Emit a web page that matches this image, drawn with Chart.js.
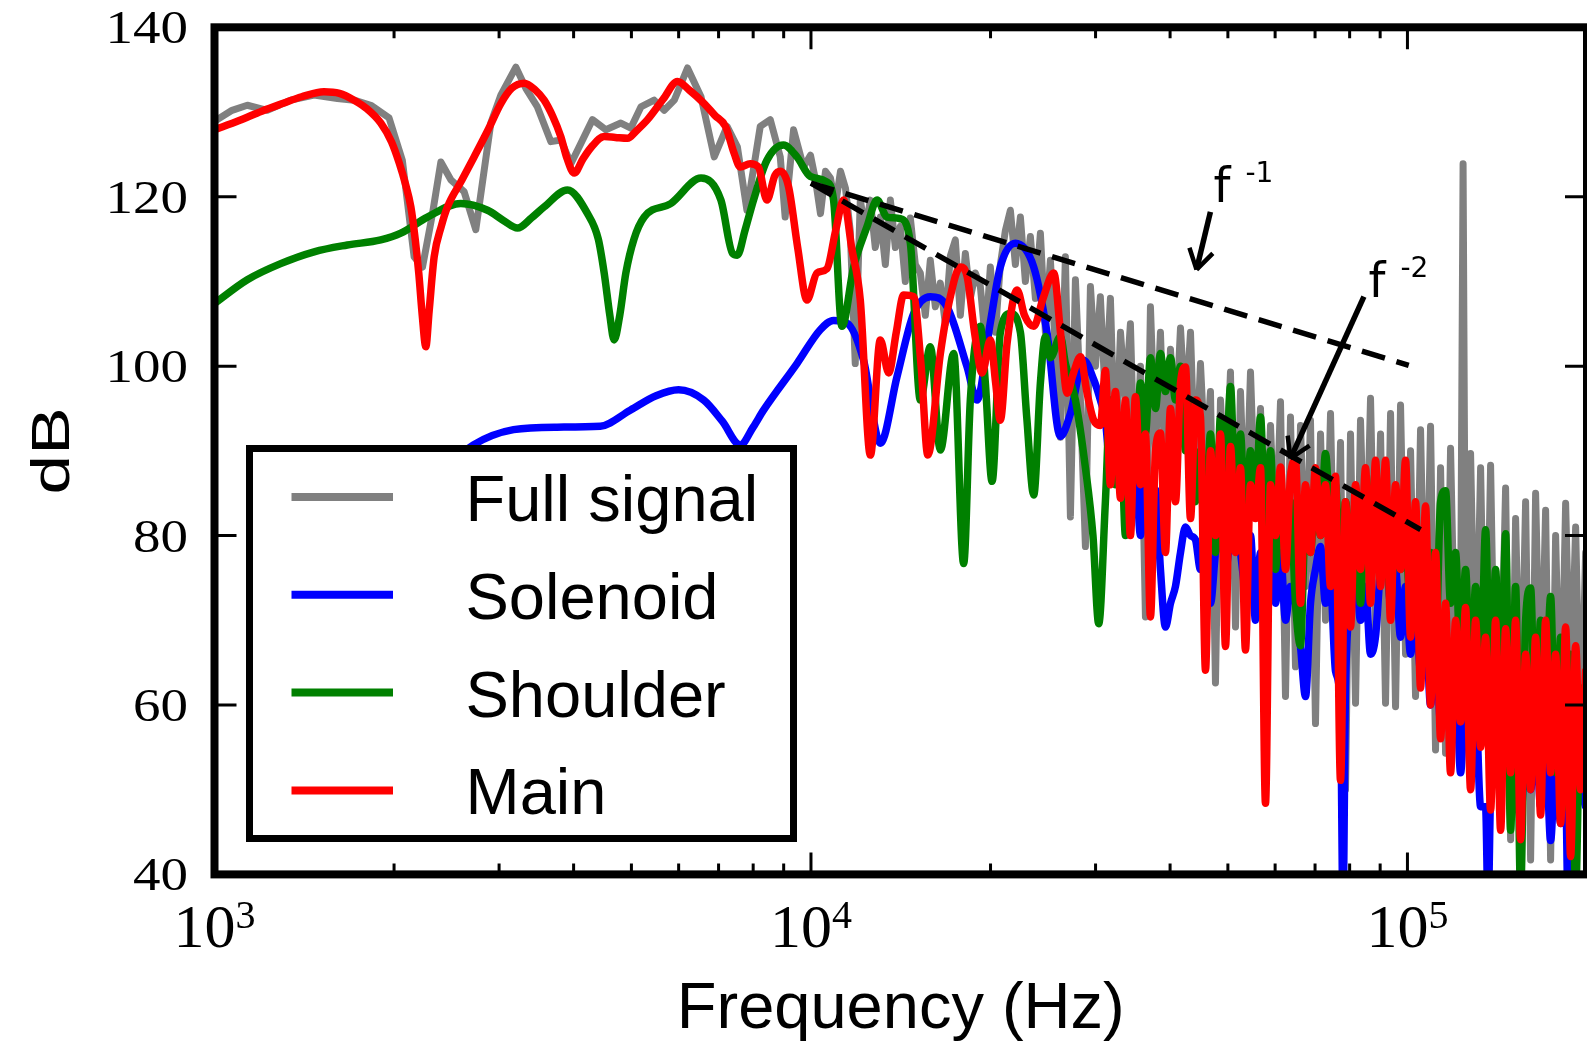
<!DOCTYPE html>
<html>
<head>
<meta charset="utf-8">
<title>Spectrum</title>
<script src="https://cdn.jsdelivr.net/npm/chart.js@4.4.0/dist/chart.umd.min.js"></script>
<style>
  html, body { margin: 0; padding: 0; background: #fff; }
  #chart { display: block; }
</style>
</head>
<body>
<canvas id="chart" width="1587" height="1043"></canvas>
<script>
// values: [frequency (Hz), level (dB)]
const fullSignal = [
  [1000,128.9],[1070,130.2],[1135,130.8],[1226,130.2],[1342,131.4],[1469,132.0],[1607,131.6],[1714,131.4],
  [1828,130.8],[1962,129.3],[2065,124.3],[2161,112.9],[2232,111.7],[2320,118.0],[2396,124.1],[2490,122.0],
  [2621,120.6],[2742,116.1],[2906,128.7],[3020,132.0],[3201,135.3],[3326,132.8],[3478,130.6],[3664,126.5],
  [3807,126.7],[3958,123.9],[4114,126.3],[4302,129.1],[4530,127.9],[4800,128.7],[4989,128.1],[5186,130.6],
  [5458,131.4],[5675,130.2],[5900,131.4],[6209,135.2],[6541,131.8],[6884,124.7],[7233,128.3],[7527,125.9],
  [7810,118.4],[8222,128.3],[8546,129.1],[8882,124.7],[9051,117.6],[9350,127.9],[9718,123.5],
  [9981,124.9],[10175,122.0],[10374,118.0],[10576,123.0],[10782,122.2],[10992,119.0],[11207,123.0],[11425,121.0],
  [11637,116.0],[11864,100.3],[12097,119.6],[12333,116.0],[12574,119.6],[12818,114.0],[13071,117.6],[13326,112.0],
  [13586,119.6],[13851,114.0],[14117,116.5],[14393,110.0],[14674,117.5],[14960,112.0],[15252,111.0],[15549,106.0],
  [15852,112.5],[16162,107.0],[16476,109.8],[16798,105.0],[17126,113.0],[17459,114.9],[17800,106.0],[18147,113.3],
  [18501,108.0],[18862,111.0],[19230,109.4],[19605,103.0],[19987,111.7],[20377,104.0],[20774,112.0],[21180,116.0],
  [21593,118.4],[22013,112.0],[22443,117.6],[22880,110.0],[23327,115.3],[23782,108.0],[24245,115.7],[24718,104.0],
  [25200,112.5],[25691,102.0],[26192,91.6],[26703,112.9],[27224,82.2],[27755,110.2],[28296,96.0],[28848,78.7],
  [29411,109.4],[29984,100.0],[30560,108.2],[31160,96.0],[31770,108.0],[32390,88.0],[33030,104.0],[33670,96.0],
  [34320,105.0],[34990,84.0],[35680,100.0],[36370,70.4],[37080,107.0],[37810,90.0],[38540,104.0],[39290,86.0],
  [40060,102.0],[40840,92.0],[41640,104.5],[42450,94.0],[43280,104.0],[44120,86.0],[44980,100.3],[45860,88.0],
  [46750,97.0],[47660,62.6],[48590,96.0],[49540,84.0],[50500,99.3],[51490,69.2],[52490,97.0],[53510,80.0],
  [54560,99.3],[55620,82.0],[56710,95.0],[57810,76.0],[58940,93.0],[60090,78.0],[61260,95.8],[62450,61.0],
  [63670,94.0],[64910,64.5],[66180,93.0],[67470,74.0],[68780,93.6],[70120,57.8],[71490,92.0],[72880,70.0],
  [74310,94.4],[75750,66.0],[77230,91.0],[78740,50.0],[80270,92.0],[81840,60.2],[83430,93.6],[85060,72.0],
  [86720,96.2],[88410,68.0],[90140,92.0],[91890,60.2],[93690,94.4],[95510,59.8],[97370,95.4],[99270,66.0],
  [101210,90.0],[103180,61.0],[105190,92.5],[107240,64.0],[109330,92.9],[111460,54.7],[113640,88.0],[115850,54.3],
  [118110,90.3],[120420,62.0],[122770,70.0],[123960,123.9],[125160,66.0],[127600,89.7],[130090,60.0],[132630,88.0],
  [135210,56.0],[137850,88.3],[140540,53.9],[143280,60.0],[146070,85.6],[148920,44.1],[151820,82.0],[154780,56.0],
  [157800,84.0],[160880,41.7],[164010,85.0],[167210,58.0],[170470,83.0],[173790,41.7],[177180,80.0],[180640,55.0],
  [184160,83.8],[187750,60.0],[191410,81.0],[195140,53.9],[198940,78.0]
];

// starts under the legend box, so its first points are hidden there
const solenoid = [
  [1200,70.0],[1400,73.0],[1700,77.0],[2000,82.0],[2400,87.5],[2717,90.7],[3172,92.5],
  [3750,92.8],[4433,92.9],
  [4977,94.8],[5500,96.5],[5998,97.2],[6607,96.0],[7100,93.5],[7611,90.7],[8000,92.8],[8327,94.8],
  [9474,100.3],[10366,104.3],[10911,105.4],[11488,105.1],[12250,100.7],[13071,90.9],[13945,98.8],[14863,106.2],
  [15850,108.2],[16910,107.0],[18270,99.9],[18980,96.0],[19980,105.1],[20770,111.7],[22010,114.5],[23630,111.7],
  [24880,103.9],[26190,91.7],[27220,94.4],[28660,100.7],[29790,98.4],[30560,96.0],[31160,93.6],[31770,88.0],
  [32390,92.0],[33030,86.0],[33670,90.0],[34320,84.0],[34990,88.0],[35680,80.0],[36370,86.0],[37080,82.0],
  [37810,85.4],[38540,76.0],[39290,69.2],[40060,72.0],[40840,74.0],[41640,78.0],[42450,81.0],[43280,80.0],
  [44120,79.5],[44980,76.0],[45860,80.0],[46750,72.0],[47660,78.0],[48590,82.0],[49540,76.0],[50500,80.0],
  [51490,82.6],[52490,78.0],[53510,74.0],[54560,80.0],[55620,70.0],[56710,78.0],[57810,76.0],[58940,80.0],
  [60090,72.0],[61260,78.0],[62450,70.0],[63670,74.0],[64910,72.0],[66180,66.9],[67470,61.0],[68780,72.0],
  [70120,76.0],[71490,78.7],[72880,72.0],[74310,74.0],[75750,64.0],[77230,60.0],[77970,36.0],[78740,62.0],
  [80270,72.0],[81840,76.0],[83430,70.0],[85060,74.0],[86720,66.0],[88410,68.1],[90140,76.0],[91890,78.7],
  [93690,72.0],[95510,76.0],[97370,68.0],[99270,74.0],[101210,66.0],[103180,72.0],[105190,64.0],[107240,70.0],
  [109330,60.0],[111460,68.0],[113640,58.0],[115850,66.0],[118110,56.0],[120420,64.0],[122770,52.0],[125160,62.0],
  [127600,54.0],[130090,60.0],[132630,48.0],[135210,48.0],[136520,36.0],[137850,50.0],[140540,58.0],[143280,54.0],
  [146070,60.0],[148920,50.0],[151820,58.0],[154780,46.0],[157800,56.0],[160880,50.0],[164010,58.0],[167210,48.0],
  [170470,56.0],[173790,44.0],[177180,54.0],[180640,46.0],[184160,50.0],[185940,36.0],[187750,48.0],[191410,54.0],
  [195140,50.0],[198940,48.0]
];

const shoulder = [
  [1000,107.4],[1135,110.2],[1291,112.1],[1469,113.5],[1670,114.3],[1900,114.9],[2053,115.7],[2275,117.6],
  [2588,119.2],[2869,118.4],[3050,117.2],[3221,116.3],[3400,117.5],[3570,118.8],[3906,120.8],[4221,118.0],
  [4400,115.0],[4501,111.0],[4600,106.0],[4677,103.1],[4780,106.0],[4894,111.0],[5050,115.0],[5253,117.6],
  [5823,119.2],[6541,122.2],[7063,119.6],[7388,113.3],[7527,113.1],[7750,116.0],[8011,119.6],[8436,124.3],
  [8995,126.1],[9474,124.7],[9973,122.4],[10600,121.8],[10911,119.6],[11270,104.7],[11790,111.7],[12420,116.5],
  [12905,119.6],[13414,117.6],[14118,117.4],[14677,114.5],[15255,96.0],[15852,102.3],[16476,90.1],[17350,101.5],
  [18030,76.7],[18500,96.0],[19230,104.7],[19605,98.0],[20120,86.4],[20774,104.0],[21593,106.2],[22443,104.0],
  [23000,94.0],[23630,84.8],[24245,98.0],[24718,103.5],[25200,101.0],[26192,103.5],[26703,100.3],[27755,96.0],
  [28848,88.0],[29700,80.0],[30370,69.6],[31160,84.0],[31770,96.0],[32390,86.0],[33030,94.0],[33670,80.0],
  [34320,93.0],[34990,88.0],[35680,98.0],[36370,92.0],[37080,101.0],[37810,95.0],[38540,101.5],[39290,97.0],
  [40060,101.0],[40840,96.0],[41640,100.0],[42450,90.0],[43280,96.0],[44120,84.0],[44980,90.0],[45860,82.0],
  [46750,92.0],[47660,78.0],[48590,94.0],[49540,86.0],[50500,97.6],[51490,84.0],[52490,92.0],[53510,80.0],
  [54560,90.0],[55620,83.0],[56710,94.0],[57810,80.0],[58940,90.0],[60090,76.0],[61260,86.0],[62450,80.0],
  [63670,84.0],[64910,72.0],[66180,67.0],[67470,82.0],[68780,78.0],[70120,86.0],[71490,80.0],[72880,89.7],
  [74310,82.0],[75750,86.0],[77230,74.0],[78740,84.0],[80270,78.0],[81840,82.0],[83430,72.0],[85060,86.0],
  [86720,80.0],[88410,87.7],[90140,78.0],[91890,82.0],[93690,72.0],[95510,82.0],[97370,76.0],[99270,80.0],
  [101210,70.0],[103180,68.9],[105190,80.0],[107240,72.0],[109330,78.0],[111460,66.0],[113640,84.0],[115850,85.3],
  [118110,72.0],[120420,78.0],[122770,64.0],[125160,76.0],[127600,60.0],[130090,74.0],[132630,62.0],[135210,80.7],
  [137850,58.0],[140540,76.0],[143280,56.0],[146070,80.2],[148920,45.2],[151820,74.0],[154780,38.0],[157800,70.0],
  [160880,73.8],[164010,55.0],[167210,70.0],[170470,60.0],[173790,72.8],[177180,52.0],[180640,68.0],[184160,48.0],
  [187750,66.0],[191410,38.0],[195140,62.0],[198940,56.0]
];

const mainPart = [
  [1000,127.9],[1100,129.0],[1200,130.1],[1300,131.0],[1400,131.8],[1526,132.4],[1620,132.2],[1714,131.4],
  [1800,130.4],[1900,128.7],[1980,126.5],[2040,124.0],[2090,121.5],[2134,118.8],[2170,115.0],[2200,111.0],
  [2230,106.0],[2261,102.3],[2290,106.5],[2335,112.9],[2400,116.5],[2458,118.8],[2600,122.0],[2724,124.7],
  [2880,128.0],[3020,131.0],[3150,132.8],[3305,133.4],[3450,132.6],[3570,131.4],[3690,129.5],[3807,127.1],
  [3900,124.5],[4009,122.8],[4150,124.5],[4300,126.0],[4501,127.1],[4700,127.0],[4925,126.9],[5100,127.8],
  [5321,129.1],[5650,131.5],[5973,133.6],[6250,132.6],[6622,131.0],[6900,129.6],[7189,128.3],[7436,125.1],
  [7611,123.5],[7907,123.9],[8166,123.5],[8436,119.6],[8700,122.5],[8882,123.0],[9170,121.2],[9500,114.0],
  [9847,107.8],[10233,111.0],[10637,111.5],[11000,116.0],[11340,119.6],[11700,114.0],[12097,107.8],[12578,89.5],
  [13071,103.1],[13497,99.2],[13900,104.0],[14302,108.4],[14863,108.2],[15300,100.0],[15700,89.5],[16480,101.5],
  [17100,108.0],[17800,111.7],[18270,110.6],[18800,104.0],[19360,99.2],[19980,103.1],[20400,98.0],[20770,93.6],
  [21320,102.7],[22160,109.0],[22800,106.0],[23630,104.7],[24500,108.0],[25530,111.0],[26200,104.0],[26880,96.8],
  [27500,99.0],[28300,101.1],[29000,97.0],[29790,93.6],[30560,93.0],[31160,99.5],[31770,86.0],[32390,97.0],
  [33030,84.4],[33670,96.0],[34320,80.0],[34990,96.4],[35680,86.0],[36370,92.0],[37080,70.4],[37810,90.0],
  [38540,92.1],[39290,78.0],[40060,95.0],[40840,84.0],[41640,98.0],[42450,99.9],[43280,82.0],[44120,96.0],
  [44980,94.0],[45860,64.1],[46750,90.0],[47660,80.0],[48590,92.0],[49540,66.9],[50500,90.5],[51490,78.0],
  [52490,88.0],[53510,66.5],[54560,86.0],[55620,82.0],[56710,88.0],[57810,48.4],[58940,86.0],[60090,80.0],
  [61260,88.1],[62450,76.0],[63670,87.0],[64910,88.9],[66180,72.0],[67470,86.0],[68780,78.0],[70120,88.0],
  [71490,80.0],[72880,86.0],[74310,74.0],[75750,87.0],[77230,51.1],[78740,84.0],[80270,69.2],[81840,86.0],
  [83430,76.0],[85060,88.0],[86720,72.0],[88410,88.9],[90140,74.0],[91890,88.9],[93690,70.0],[95510,86.0],
  [97370,76.0],[99270,88.9],[101210,68.0],[103180,84.0],[105190,62.0],[107240,83.5],[109330,60.0],[111460,78.0],
  [113640,56.0],[115850,72.0],[118110,52.0],[120420,70.0],[122770,58.0],[125160,71.5],[127600,50.0],[130090,70.0],
  [132630,55.0],[135210,68.0],[137850,47.6],[140540,70.0],[143280,45.2],[146070,69.0],[148920,52.0],[151820,70.0],
  [154780,44.1],[157800,66.0],[160880,50.0],[164010,68.0],[167210,47.0],[170470,70.0],[173790,52.0],[177180,66.0],
  [180640,46.0],[184160,69.2],[187750,42.1],[191410,67.0],[195140,50.0],[198940,64.0]
];

// the two slope guides and their labels
const slopeMinus1 = [[10000, 121.6], [100500, 100.1]];
const slopeMinus2 = [[10000, 121.6], [105200, 80.7]];
const slopeNotes = [
  { power: '-1', label: [47300, 119.4], tail: [46740, 118.2], tip: [44300, 111.4] },
  { power: '-2', label: [86040, 108.2], tail: [84530, 108.2], tip: [63670, 89.1] }
];

const yTicks = [40, 60, 80, 100, 120, 140];
const xDecades = [1000, 10000, 100000];
const xMinor = [2000, 3000, 4000, 5000, 6000, 7000, 8000, 9000,
                20000, 30000, 40000, 50000, 60000, 70000, 80000, 90000];

const toPoints = arr => arr.map(([x, y]) => ({ x, y }));

function series(label, data, color, order, smooth, width) {
  return {
    label: label,
    data: toPoints(data),
    borderColor: color,
    backgroundColor: color,
    borderWidth: width,
    pointRadius: 0,
    fill: false,
    order: order,
    borderJoinStyle: 'round',
    borderCapStyle: 'round',
    cubicInterpolationMode: smooth ? 'monotone' : 'default',
    tension: 0
  };
}

function guide(data) {
  return {
    label: '',
    data: toPoints(data),
    borderColor: '#000',
    borderWidth: 5.5,
    borderDash: [24, 12],
    pointRadius: 0,
    fill: false,
    order: 0
  };
}

const frame = {
  id: 'frame',
  beforeDraw(chart) {
    const ctx = chart.ctx;
    ctx.save();
    ctx.fillStyle = '#fff';
    ctx.fillRect(0, 0, chart.width, chart.height);
    ctx.restore();
  },
  afterDatasetsDraw(chart) {
    const { ctx, chartArea: a, scales: { x, y } } = chart;
    ctx.save();

    // ticks point inwards, on all four sides
    ctx.strokeStyle = '#000';
    ctx.lineWidth = 3;
    ctx.beginPath();
    xDecades.concat(xMinor).forEach(v => {
      const px = x.getPixelForValue(v);
      const len = xDecades.includes(v) ? 22 : 11;
      ctx.moveTo(px, a.bottom); ctx.lineTo(px, a.bottom - len);
      ctx.moveTo(px, a.top); ctx.lineTo(px, a.top + len);
    });
    yTicks.forEach(v => {
      const py = y.getPixelForValue(v);
      ctx.moveTo(a.left, py); ctx.lineTo(a.left + 22, py);
      ctx.moveTo(a.right, py); ctx.lineTo(a.right - 22, py);
    });
    ctx.stroke();

    ctx.lineWidth = 8;
    ctx.strokeRect(a.left, a.top, a.right - a.left, a.bottom - a.top);

    // tick labels
    ctx.fillStyle = '#000';
    ctx.textBaseline = 'alphabetic';
    ctx.textAlign = 'right';
    ctx.font = '47px "Liberation Serif"';
    yTicks.forEach(v => {
      const py = y.getPixelForValue(v);
      ctx.save();
      ctx.translate(188, py + 16);
      ctx.scale(1.17, 1);
      ctx.fillText(String(v), 0, 0);
      ctx.restore();
    });

    ctx.textAlign = 'left';
    xDecades.forEach(v => {
      const px = x.getPixelForValue(v);
      const exp = String(Math.round(Math.log10(v)));
      ctx.font = '62px "Liberation Serif"';
      const w1 = ctx.measureText('10').width;
      ctx.font = '40px "Liberation Serif"';
      const w2 = ctx.measureText(exp).width;
      const left = px - (w1 + w2) / 2;
      ctx.font = '62px "Liberation Serif"';
      ctx.fillText('10', left, 947);
      ctx.font = '40px "Liberation Serif"';
      ctx.fillText(exp, left + w1, 928);
    });

    // axis titles
    ctx.font = '65px "Liberation Sans"';
    ctx.textAlign = 'center';
    ctx.fillText('Frequency (Hz)', (a.left + a.right) / 2, 1028);
    ctx.save();
    ctx.translate(69, (a.top + a.bottom) / 2);
    ctx.rotate(-Math.PI / 2);
    ctx.scale(1.08, 0.8);
    ctx.font = '66px "Liberation Sans"';
    ctx.fillText('dB', 0, 0);
    ctx.restore();

    // slope labels and arrows
    ctx.textAlign = 'left';
    slopeNotes.forEach(n => {
      const lx = x.getPixelForValue(n.label[0]);
      const ly = y.getPixelForValue(n.label[1]);
      ctx.font = '48px "DejaVu Sans"';
      ctx.fillText('f', lx, ly);
      ctx.font = '28px "DejaVu Sans"';
      ctx.fillText(n.power, lx + 32, ly - 20);

      const tx = x.getPixelForValue(n.tail[0]), ty = y.getPixelForValue(n.tail[1]);
      const hx = x.getPixelForValue(n.tip[0]), hy = y.getPixelForValue(n.tip[1]);
      const ang = Math.atan2(ty - hy, tx - hx);
      ctx.lineWidth = 5.5;
      ctx.beginPath();
      ctx.moveTo(tx, ty); ctx.lineTo(hx, hy);
      ctx.stroke();
      ctx.lineWidth = 4.5;
      ctx.beginPath();
      [0.55, -0.55].forEach(d => {
        ctx.moveTo(hx, hy);
        ctx.lineTo(hx + 23 * Math.cos(ang + d), hy + 23 * Math.sin(ang + d));
      });
      ctx.stroke();
    });

    // legend box inside the plot
    const box = { left: 249.5, top: 448.5, width: 544, height: 390 };
    ctx.fillStyle = '#fff';
    ctx.fillRect(box.left, box.top, box.width, box.height);
    ctx.lineWidth = 7;
    ctx.strokeStyle = '#000';
    ctx.strokeRect(box.left, box.top, box.width, box.height);
    ctx.font = '65px "Liberation Sans"';
    ctx.textAlign = 'left';
    chart.data.datasets.slice(0, 4).forEach((ds, i) => {
      const rowY = 497 + i * 97.8;
      ctx.strokeStyle = ds.borderColor;
      ctx.lineWidth = 8;
      ctx.beginPath();
      ctx.moveTo(291.5, rowY); ctx.lineTo(393, rowY);
      ctx.stroke();
      ctx.fillStyle = '#000';
      ctx.fillText(ds.label, 465.5, rowY + 24);
    });

    ctx.restore();
  }
};

new Chart(document.getElementById('chart').getContext('2d'), {
  type: 'line',
  data: {
    datasets: [
      series('Full signal', fullSignal, '#808080', 4, false, 7),
      series('Solenoid', solenoid, '#0000ff', 3, true, 7.5),
      series('Shoulder', shoulder, '#008000', 2, true, 7.5),
      series('Main', mainPart, '#ff0000', 1, true, 7.5),
      guide(slopeMinus1),
      guide(slopeMinus2)
    ]
  },
  options: {
    responsive: false,
    animation: false,
    devicePixelRatio: 1,
    layout: { padding: { top: 27.3, right: 0, bottom: 0, left: 0 } },
    plugins: {
      legend: { display: false },
      tooltip: { enabled: false }
    },
    scales: {
      x: {
        type: 'logarithmic',
        min: 1000,
        max: 200000,
        ticks: { display: false },
        grid: { display: false },
        border: { display: false },
        afterFit(s) { s.height = 168.6; }
      },
      y: {
        min: 40,
        max: 140,
        ticks: { display: false },
        grid: { display: false },
        border: { display: false },
        afterFit(s) { s.width = 214.5; }
      }
    }
  },
  plugins: [frame]
});
</script>
</body>
</html>
